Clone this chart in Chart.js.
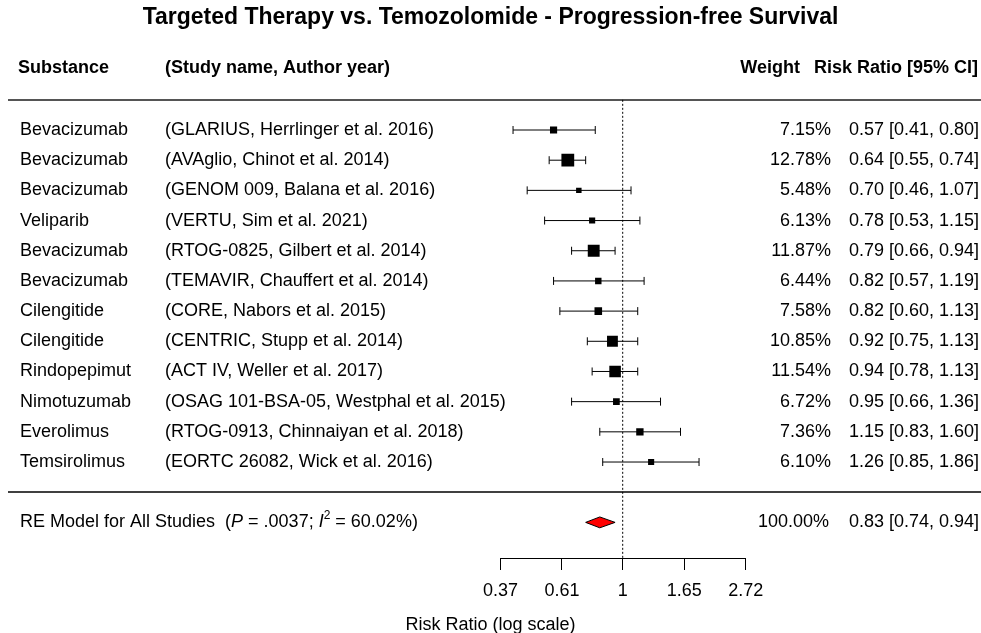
<!DOCTYPE html>
<html>
<head>
<meta charset="utf-8">
<script src="https://cdn.jsdelivr.net/npm/chart.js@4.4.1/dist/chart.umd.min.js"></script>
<style>
  html, body { margin: 0; padding: 0; background: #fff; }
  #wrap { width: 981px; height: 633px; }
</style>
</head>
<body>
<div id="wrap"><canvas id="forestChart" width="981" height="633"></canvas></div>
<script>
// Study data
const substances = ['Bevacizumab', 'Bevacizumab', 'Bevacizumab', 'Veliparib', 'Bevacizumab', 'Bevacizumab',
  'Cilengitide', 'Cilengitide', 'Rindopepimut', 'Nimotuzumab', 'Everolimus', 'Temsirolimus'];
const studies = ['(GLARIUS, Herrlinger et al. 2016)', '(AVAglio, Chinot et al. 2014)', '(GENOM 009, Balana et al. 2016)',
  '(VERTU, Sim et al. 2021)', '(RTOG-0825, Gilbert et al. 2014)', '(TEMAVIR, Chauffert et al. 2014)',
  '(CORE, Nabors et al. 2015)', '(CENTRIC, Stupp et al. 2014)', '(ACT IV, Weller et al. 2017)',
  '(OSAG 101-BSA-05, Westphal et al. 2015)', '(RTOG-0913, Chinnaiyan et al. 2018)', '(EORTC 26082, Wick et al. 2016)'];
const weights = [7.15, 12.78, 5.48, 6.13, 11.87, 6.44, 7.58, 10.85, 11.54, 6.72, 7.36, 6.10];
const riskRatios = [0.57, 0.64, 0.70, 0.78, 0.79, 0.82, 0.82, 0.92, 0.94, 0.95, 1.15, 1.26];
const lowerCI = [0.41, 0.55, 0.46, 0.53, 0.66, 0.57, 0.60, 0.75, 0.78, 0.66, 0.83, 0.85];
const upperCI = [0.80, 0.74, 1.07, 1.15, 0.94, 1.19, 1.13, 1.13, 1.13, 1.36, 1.60, 1.86];

// Random-effects summary
const summaryRR = 0.83;
const summaryLower = 0.74;
const summaryUpper = 0.94;
const summaryWeight = 100;
const summaryP = '.0037';
const summaryI2 = 60.02;

// x axis tick labels (risk ratio, log scale)
const tickValues = [0.37, 0.61, 1, 1.65, 2.72];

const FONT = '"Liberation Sans", Arial, Helvetica, sans-serif';
Chart.defaults.font.family = FONT;
Chart.defaults.color = '#000';

const nStudies = substances.length;
const summaryRow = nStudies + 2;
const headerRow = -1.05;
const diamondHalf = 0.18;

const squares = riskRatios.map((rr, i) => ({ x: Math.log(rr), y: i + 1 }));
const whiskers = [];
const caps = [];
riskRatios.forEach((rr, i) => {
  whiskers.push({ x: Math.log(lowerCI[i]), y: i + 1 }, { x: Math.log(upperCI[i]), y: i + 1 }, { x: NaN, y: NaN });
  caps.push({ x: Math.log(lowerCI[i]), y: i + 1 }, { x: Math.log(upperCI[i]), y: i + 1 });
});
const diamond = [
  { x: Math.log(summaryLower), y: summaryRow },
  { x: Math.log(summaryRR), y: summaryRow - diamondHalf },
  { x: Math.log(summaryUpper), y: summaryRow },
  { x: Math.log(summaryRR), y: summaryRow + diamondHalf },
  { x: Math.log(summaryLower), y: summaryRow }
];

const fmt = v => v.toFixed(2);

// table text, rules and the short axis line
const forestText = {
  id: 'forestText',
  beforeDatasetsDraw(chart) {
    const { ctx, scales: { x, y }, width, chartArea } = chart;
    const hline = (x1, x2, yy) => { ctx.beginPath(); ctx.moveTo(x1, yy); ctx.lineTo(x2, yy); ctx.stroke(); };
    ctx.save();
    ctx.strokeStyle = '#555';
    ctx.lineWidth = 2;
    hline(8, width, Math.round(y.getPixelForValue(0)));
    ctx.strokeStyle = '#000';
    ctx.lineWidth = 1.3;
    hline(8, width, Math.round(y.getPixelForValue(nStudies + 1)));
    ctx.lineWidth = 1;
    hline(x.getPixelForValue(Math.log(tickValues[0])), x.getPixelForValue(Math.log(tickValues[tickValues.length - 1])), chartArea.bottom + 0.5);
    ctx.restore();
  },
  afterDatasetsDraw(chart) {
    const { ctx, scales: { y } } = chart;
    ctx.save();
    ctx.fillStyle = '#000';
    ctx.textBaseline = 'middle';

    // header
    const hy = y.getPixelForValue(headerRow);
    ctx.font = 'bold 18px ' + FONT;
    ctx.textAlign = 'left';
    ctx.fillText('Substance', 18, hy);
    ctx.fillText('(Study name, Author year)', 165, hy);
    ctx.textAlign = 'right';
    ctx.fillText('Weight', 800, hy);
    ctx.fillText('Risk Ratio [95% CI]', 978, hy);

    // study rows
    ctx.font = '18px ' + FONT;
    substances.forEach((s, i) => {
      const ry = y.getPixelForValue(i + 1);
      ctx.textAlign = 'left';
      ctx.fillText(s, 20, ry);
      ctx.fillText(studies[i], 165, ry);
      ctx.textAlign = 'right';
      ctx.fillText(fmt(weights[i]) + '%', 831, ry);
      ctx.fillText(fmt(riskRatios[i]) + ' [' + fmt(lowerCI[i]) + ', ' + fmt(upperCI[i]) + ']', 979, ry);
    });

    // summary row
    const sy = y.getPixelForValue(summaryRow);
    ctx.textAlign = 'right';
    ctx.fillText(fmt(summaryWeight) + '%', 829, sy);
    ctx.fillText(fmt(summaryRR) + ' [' + fmt(summaryLower) + ', ' + fmt(summaryUpper) + ']', 979, sy);
    ctx.textAlign = 'left';
    const parts = [
      ['RE Model for All Studies  (', '18px ', 0],
      ['P', 'italic 18px ', 0],
      [' = ' + summaryP + '; ', '18px ', 0],
      ['I', 'italic 18px ', 0],
      ['2', '12px ', -7],
      [' = ' + fmt(summaryI2) + '%)', '18px ', 0]
    ];
    let px = 20;
    parts.forEach(([t, f, dy]) => {
      ctx.font = f + FONT;
      ctx.fillText(t, px, sy + dy);
      px += ctx.measureText(t).width;
    });
    ctx.restore();
  }
};

const ctx = document.getElementById('forestChart').getContext('2d');
new Chart(ctx, {
  type: 'scatter',
  data: {
    datasets: [
      {
        label: 'Studies',
        data: squares,
        pointStyle: 'rect',
        pointRadius: c => weights[c.dataIndex] / Math.SQRT2,
        backgroundColor: '#000',
        borderWidth: 0,
        order: 1
      },
      {
        label: 'CI caps',
        data: caps,
        pointStyle: 'line',
        pointRotation: 90,
        pointRadius: 4,
        borderColor: '#000',
        borderWidth: 1,
        order: 2
      },
      {
        label: 'CI',
        data: whiskers,
        showLine: true,
        spanGaps: false,
        pointRadius: 0,
        borderColor: '#000',
        borderWidth: 1,
        order: 3
      },
      {
        label: 'RE Model',
        data: diamond,
        showLine: true,
        fill: 'shape',
        pointRadius: 0,
        borderColor: '#000',
        borderWidth: 1,
        backgroundColor: '#ff0000',
        tension: 0,
        order: 0
      },
      {
        label: 'No effect',
        data: [{ x: 0, y: 0 }, { x: 0, y: 15.18 }],
        showLine: true,
        pointRadius: 0,
        borderColor: '#000',
        borderWidth: 1,
        borderDash: [2, 2],
        order: 5
      }
    ]
  },
  options: {
    responsive: false,
    animation: false,
    layout: { padding: 0, autoPadding: false },
    plugins: {
      legend: { display: false },
      tooltip: { enabled: false },
      title: {
        display: true,
        text: 'Targeted Therapy vs. Temozolomide - Progression-free Survival',
        color: '#000',
        font: { size: 23, weight: 'bold' },
        padding: { top: 4.2, bottom: 0 }
      }
    },
    scales: {
      x: {
        type: 'linear',
        min: -5.0626,
        max: 2.913,
        afterBuildTicks: s => { s.ticks = tickValues.map(v => ({ value: Math.log(v) })); },
        afterFit: s => { s.height = 75; },
        ticks: {
          autoSkip: false,
          maxRotation: 0,
          padding: 10,
          color: '#000',
          font: { size: 18 },
          callback: (v, i) => String(tickValues[i])
        },
        grid: { drawOnChartArea: false, drawTicks: true, tickLength: 12, color: '#000', lineWidth: 1 },
        border: { display: false },
        title: {
          display: true,
          text: 'Risk Ratio (log scale)',
          color: '#000',
          font: { size: 18, lineHeight: 0.85 },
          padding: { top: 0, bottom: 0 }
        }
      },
      y: {
        type: 'linear',
        display: false,
        reverse: true,
        min: -2.2538,
        max: 15.18
      }
    }
  },
  plugins: [forestText]
});
</script>
</body>
</html>
